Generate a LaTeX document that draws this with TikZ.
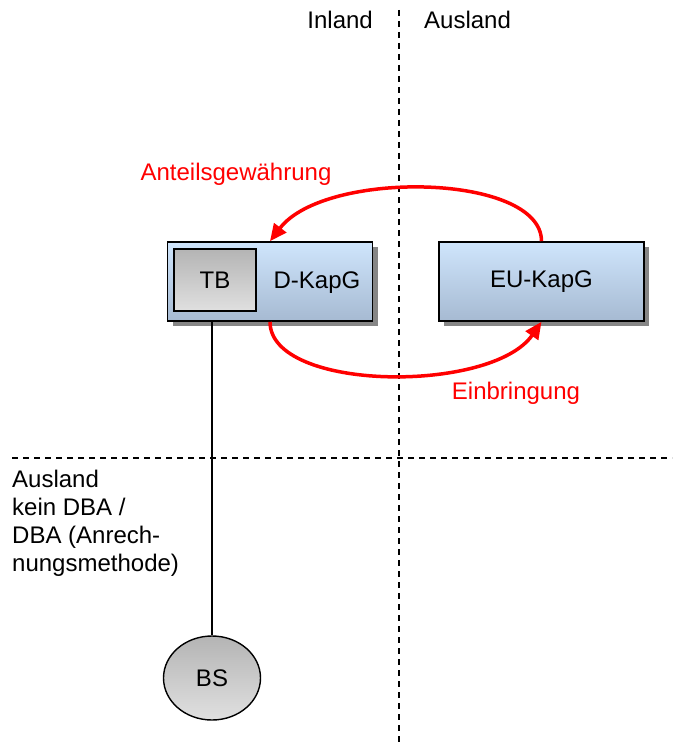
\documentclass[tikz,border=0pt]{standalone}
\usepackage{fontspec}
\setmainfont{Liberation Sans}
\usepackage{tikz}
\usetikzlibrary{arrows.meta,shadows,shapes.geometric}

\definecolor{boxtop}{HTML}{CFE5FC}
\definecolor{boxbottom}{HTML}{A6BAD2}
\definecolor{greytop}{HTML}{B4B4B4}
\definecolor{greybottom}{HTML}{E0E0E0}

\begin{document}
\begin{tikzpicture}[x=1pt, y=-1pt,
        every node/.style={font=\fontsize{24}{28}\selectfont, inner sep=0pt},
        kapg/.style={draw=black, line width=1.6pt, top color=boxtop, bottom color=boxbottom,
            minimum width=205pt, minimum height=79pt,
            drop shadow={shadow xshift=5pt, shadow yshift=-5pt, fill=gray!95, opacity=1}},
        greybox/.style={draw=black, line width=1.4pt, top color=greytop, bottom color=greybottom},
        border/.style={line width=1.6pt, dash pattern=on 6pt off 5pt},
        transfer/.style={red, line width=3.5pt, -{Triangle[length=17pt, width=15pt]}},
        redtext/.style={text=red}]
        \useasboundingbox (0, 0) rectangle (681, 746);

        \coordinate (borderTop) at (399, 10);
        \coordinate (borderBottom) at (399, 746);
        \coordinate (borderLeft) at (12, 458);
        \coordinate (borderRight) at (672, 458);

        \draw[border] (borderTop) -- (borderBottom);
        \draw[border] (borderLeft) -- (borderRight);

        \node[anchor=base east] (inland) at (373, 29) {Inland};
        \node[anchor=base west] (ausland) at (424, 29) {Ausland};

        \node[kapg] (dkapg) at (270, 281.5) {};
        \node[kapg] (eukapg) at (541.5, 281.5) {EU-KapG};
        \node[greybox, minimum width=82pt, minimum height=62pt] (tb) at (215, 280) {TB};
        \node (dlabel) at (317, 283) {D-KapG};

        \node[greybox, ellipse, minimum width=97pt, minimum height=84pt] (bs) at (212, 678) {BS};
        \draw[line width=1.4pt] (dkapg.south -| bs.north) -- (bs.north);

        \node[anchor=north west, align=left] (abroad) at (12, 470)
            {Ausland\\kein DBA /\\DBA (Anrech-\\nungsmethode)};

        % Tausch der Anteile
        \draw[transfer] (eukapg.north) .. controls +(0, -68) and +(55, -72) .. (dkapg.north);
        \draw[transfer] (dkapg.south) .. controls +(0, 70) and +(-50, 72) .. (eukapg.south);

        \node[redtext, anchor=base] (gewaehrung) at (236, 180) {Anteilsgewährung};
        \node[redtext, anchor=base] (einbringung) at (516, 399) {Einbringung};
    \end{tikzpicture}
\end{document}
